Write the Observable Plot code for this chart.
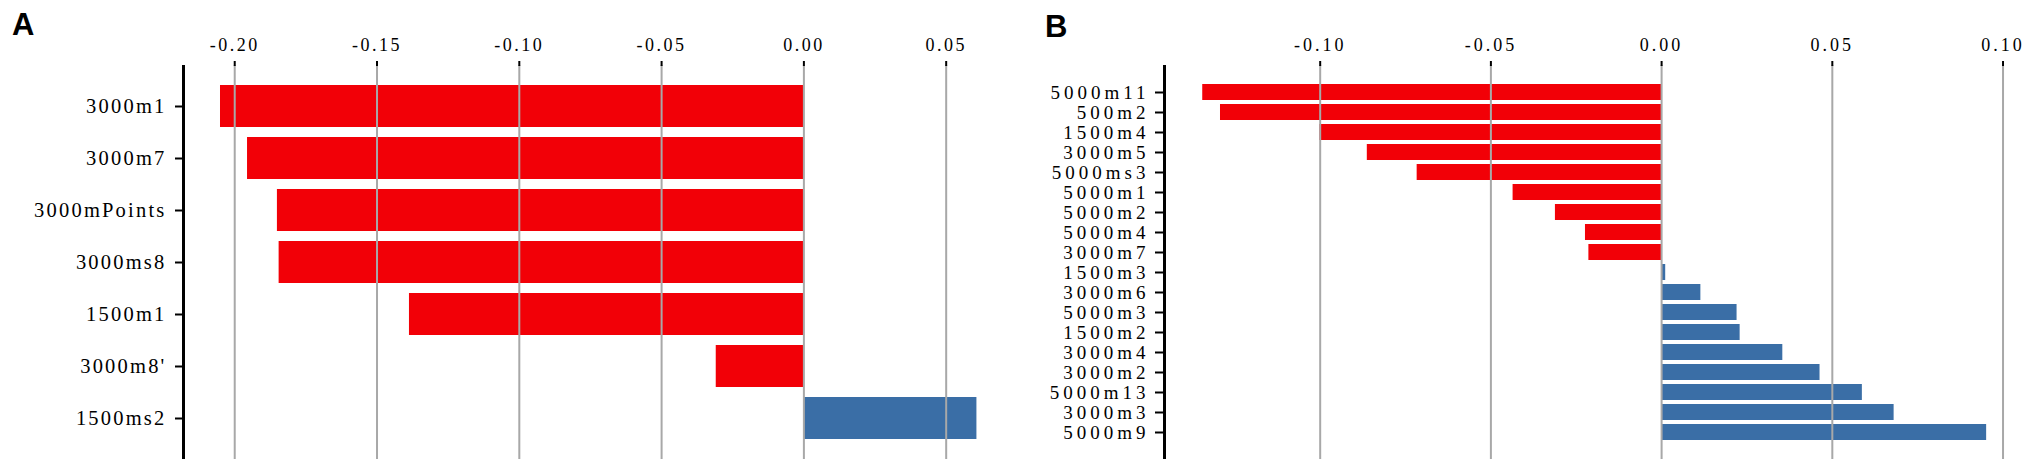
<!DOCTYPE html>
<html>
<head>
<meta charset="utf-8">
<script src="https://cdn.jsdelivr.net/npm/d3@7"></script>
<script src="https://cdn.jsdelivr.net/npm/@observablehq/plot@0.6"></script>
<style>
  html, body { margin: 0; padding: 0; background: #fff; }
  #wrap { position: relative; width: 2033px; height: 467px; overflow: hidden; }
  .panel { position: absolute; top: 0; }
  .tag { position: absolute; font-family: "Liberation Sans", Arial, sans-serif; font-weight: bold; font-size: 31px; line-height: 31px; color: #000; }
  .pa g[aria-label="y-axis tick label"] text { letter-spacing: 2.2px; }
  .pa g[aria-label="x-axis tick label"] text { letter-spacing: 2.5px; }
  .pb g[aria-label="y-axis tick label"] text { letter-spacing: 4px; }
  .pb g[aria-label="x-axis tick label"] text { letter-spacing: 3px; }
</style>
</head>
<body>
<div id="wrap">
  <div class="tag" style="left:12px; top:9px;">A</div>
  <div class="tag" style="left:1045px; top:11px;">B</div>
  <div id="panelA" class="panel" style="left:0px;"></div>
  <div id="panelB" class="panel" style="left:1000px;"></div>
</div>
<script>
// ---- Data ----
const catsA = ["3000m1", "3000m7", "3000mPoints", "3000ms8", "1500m1", "3000m8'", "1500ms2"];
const valsA = [-0.2050, -0.1955, -0.1850, -0.1844, -0.1386, -0.0308, 0.0608];
const ticksA = [-0.20, -0.15, -0.10, -0.05, 0.00, 0.05];

const catsB = ["5000m11", "500m2", "1500m4", "3000m5", "5000ms3", "5000m1", "5000m2", "5000m4", "3000m7",
               "1500m3", "3000m6", "5000m3", "1500m2", "3000m4", "3000m2", "5000m13", "3000m3", "5000m9"];
const valsB = [-0.1344, -0.1292, -0.1001, -0.0862, -0.0716, -0.0435, -0.0311, -0.0223, -0.0213,
               0.0012, 0.0115, 0.0221, 0.0230, 0.0355, 0.0464, 0.0588, 0.0681, 0.0952];
const ticksB = [-0.10, -0.05, 0.00, 0.05, 0.10];

const RED = "#f20007";
const BLUE = "#3a6ea6";
const GRID = "#a8a8a8";

function panel({cats, vals, ticks, domain, width, marginLeft, marginRight, padOuter, cls,
                yFont, xFont, yTick, yPad}) {
  const data = cats.map((c, i) => ({c, v: vals[i]}));
  return Plot.plot({
    width, height: 467,
    marginLeft, marginRight, marginTop: 65, marginBottom: 8,
    className: cls,
    style: {fontFamily: "'Liberation Serif', 'Times New Roman', serif", background: "transparent", color: "#000"},
    x: {domain, axis: null, label: null},
    y: {domain: cats, paddingInner: 0.2, paddingOuter: padOuter, axis: null, label: null},
    color: {type: "identity"},
    marks: [
      Plot.barX(data, {x: "v", y: "c", fill: d => d.v < 0 ? RED : BLUE}),
      Plot.gridX(ticks, {stroke: GRID, strokeWidth: 2, strokeOpacity: 1}),
      Plot.axisX({ticks, anchor: "top", label: null, tickSize: 5, tickPadding: 10, tickFormat: d => d.toFixed(2),
                  stroke: "#000", strokeWidth: 2, fontSize: xFont}),
      Plot.axisY({label: null, tickSize: yTick, tickPadding: yPad, stroke: "#000", strokeWidth: 2, fontSize: yFont}),
      Plot.ruleX([domain[0]], {stroke: "#000", strokeWidth: 3})
    ]
  });
}

document.getElementById("panelA").appendChild(panel({
  cats: catsA, vals: valsA, ticks: ticksA, domain: [-0.218, 0.07],
  width: 1010, marginLeft: 183, marginRight: 7.4, padOuter: 0.35, cls: "pa",
  yFont: 20.5, xFont: 18, yTick: 8, yPad: 9
}));

document.getElementById("panelB").appendChild(panel({
  cats: catsB, vals: valsB, ticks: ticksB, domain: [-0.1456, 0.105],
  width: 1033, marginLeft: 164, marginRight: 13.4, padOuter: 0.95, cls: "pb",
  yFont: 19, xFont: 18, yTick: 9, yPad: 6
}));
</script>
</body>
</html>
